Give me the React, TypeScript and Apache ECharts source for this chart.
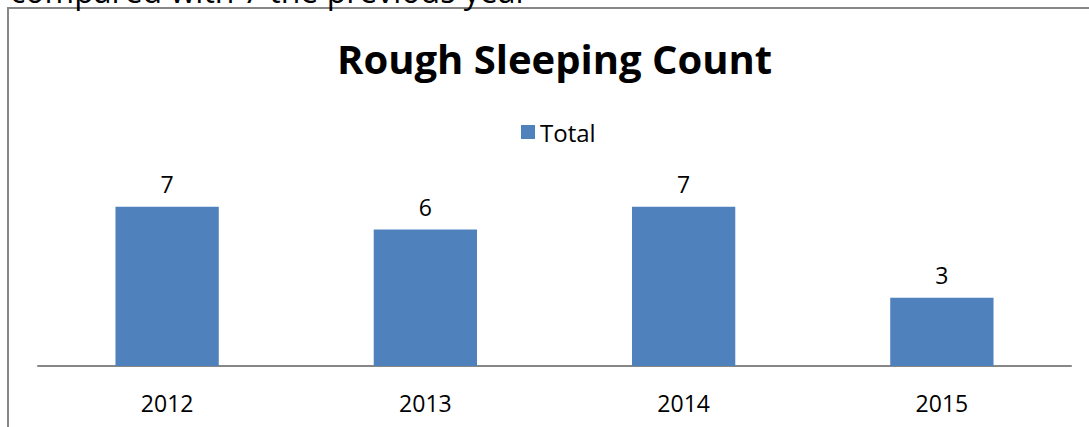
import React, { useEffect, useRef } from "react";
import * as echarts from "echarts";

const categories = ["2012", "2013", "2014", "2015"];
const totals = [7, 6, 7, 3];
const seriesName = "Total";
const titleText = "Rough Sleeping Count";
const topText = "compared with 7 the previous year";

export default function App() {
  const ref = useRef<HTMLDivElement>(null);
  useEffect(() => {
    if (!ref.current) return;
    const chart = echarts.init(ref.current, null, { renderer: "svg" });
    const font = "'Open Sans', 'Noto Sans', sans-serif";
    chart.setOption({
      animation: false,
      backgroundColor: "#ffffff",
      title: {
        text: titleText,
        left: 332,
        top: 33,
        textStyle: { fontFamily: font, fontSize: 40, fontWeight: "bold", color: "#000" },
      },
      legend: {
        data: [seriesName],
        top: 115,
        left: 516,
        itemWidth: 14,
        itemHeight: 14,
        itemGap: 8,
        icon: "rect",
        textStyle: { fontFamily: font, fontSize: 24, color: "#000" },
      },
      graphic: [
        {
          type: "rect",
          shape: { x: 8, y: 8, width: 1300, height: 600 },
          style: { fill: "none", stroke: "#878787", lineWidth: 2 },
          silent: true,
        },
        {
          type: "text",
          x: 10,
          y: 6,
          style: {
            text: topText,
            fontFamily: font,
            fontSize: 32,
            fill: "#000",
            verticalAlign: "bottom",
          },
          silent: true,
        },
      ],
      grid: { left: 38, right: 18, top: 184, bottom: 61, containLabel: false },
      xAxis: {
        type: "category",
        data: categories,
        axisLine: { lineStyle: { color: "#878787", width: 2 } },
        axisTick: { show: false },
        axisLabel: { fontFamily: font, fontSize: 23, color: "#000", margin: 25 },
      },
      yAxis: {
        type: "value",
        min: 0,
        max: 8,
        show: false,
        splitLine: { show: false },
      },
      series: [
        {
          name: seriesName,
          type: "bar",
          data: totals,
          barWidth: "40%",
          itemStyle: { color: "#4F81BD" },
          label: {
            show: true,
            position: "top",
            distance: 11,
            fontFamily: font,
            fontSize: 23,
            color: "#000",
          },
        },
      ],
    });
    return () => chart.dispose();
  }, []);
  return (
    <div
      ref={ref}
      style={{ position: "absolute", left: 0, top: 0, width: 1089, height: 427 }}
    />
  );
}
